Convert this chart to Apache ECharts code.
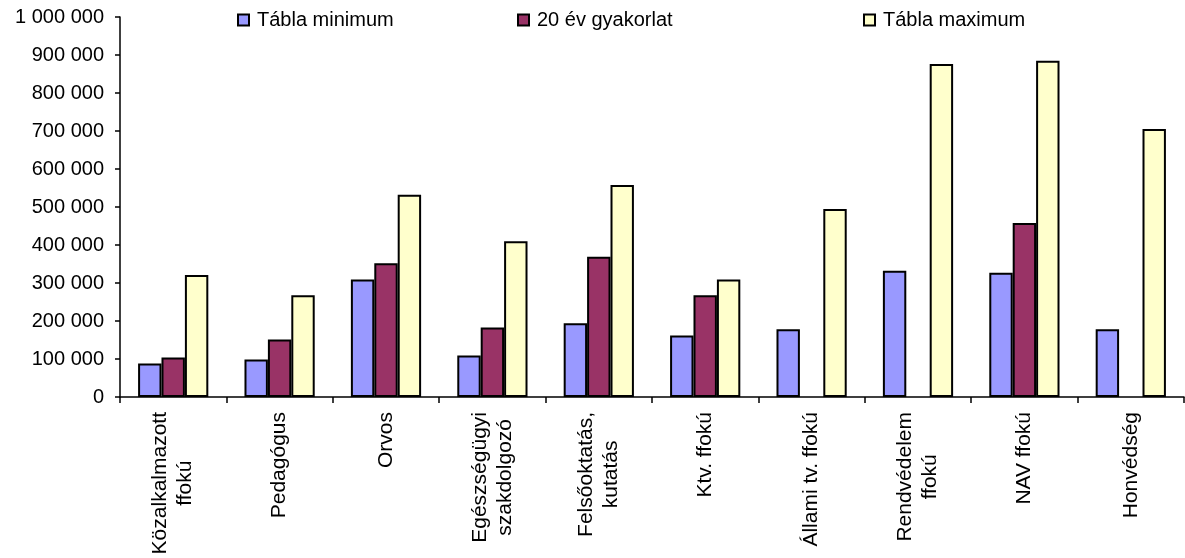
<!DOCTYPE html>
<html>
<head>
<meta charset="utf-8">
<script src="https://cdn.jsdelivr.net/npm/echarts@6/dist/echarts.min.js"></script>
<style>
  html, body { margin: 0; padding: 0; background: #ffffff; }
  #chart { width: 1185px; height: 558px; }
</style>
</head>
<body>
<div id="chart"></div>
<script>
// Monthly pay by career track (HUF)
const categories = [
  'Közalkalmazott\nffokú',
  'Pedagógus',
  'Orvos',
  'Egészségügyi\nszakdolgozó',
  'Felsőoktatás,\nkutatás',
  'Ktv. ffokú',
  'Állami tv. ffokú',
  'Rendvédelem\nffokú',
  'NAV ffokú',
  'Honvédség'
];
const seriesNames = ['Tábla minimum', '20 év gyakorlat', 'Tábla maximum'];
const tablaMinimum = [88000, 99000, 309000, 109000, 194000, 162000, 178000, 332000, 327000, 178000];
const evGyakorlat20 = [104000, 151000, 352000, 183000, 369000, 268000, null, null, 458000, null];
const tablaMaximum = [321000, 268000, 532000, 410000, 558000, 309000, 495000, 876000, 885000, 705000];
const yTicks = { min: 0, max: 1000000, interval: 100000 };

const FONT = "'Liberation Sans', Arial, sans-serif";
const colors = ['#9999FF', '#993366', '#FFFFCC'];

// thousands grouped with a space: 1 000 000
function spaced(v) {
  return String(v).replace(/\B(?=(\d{3})+(?!\d))/g, ' ');
}

const chart = echarts.init(document.getElementById('chart'), null, { renderer: 'canvas' });

const legendLeft = [237, 517, 863];

const option = {
  animation: false,
  backgroundColor: '#ffffff',
  textStyle: { fontFamily: FONT, color: '#000' },
  legend: seriesNames.map((n, i) => ({
    data: [n],
    left: legendLeft[i],
    top: 10,
    itemWidth: 11,
    itemHeight: 11,
    itemGap: 0,
    padding: 0,
    icon: 'rect',
    textStyle: { fontFamily: FONT, fontSize: 20, color: '#000', padding: [0, 0, 0, 3] }
  })),
  grid: {
    left: 120,
    right: 1,
    top: 17,
    bottom: 161,
    containLabel: false,
    outerBoundsMode: 'none'
  },
  xAxis: {
    type: 'category',
    data: categories,
    boundaryGap: true,
    axisLine: { show: true, lineStyle: { color: '#000', width: 1.5 } },
    axisTick: { show: true, length: 6, inside: false, lineStyle: { color: '#000', width: 1.5 } },
    axisLabel: {
      interval: 0,
      rotate: 90,
      margin: 15,
      color: '#000',
      fontFamily: FONT,
      fontSize: 21,
      lineHeight: 25,
      formatter: function (v) {
        // each line centred inside the rotated label block
        return v.split('\n').map(s => '{c|' + s + '}').join('\n');
      },
      rich: {
        c: { align: 'center', fontFamily: FONT, fontSize: 21, lineHeight: 25, color: '#000' }
      }
    },
    splitLine: { show: false }
  },
  yAxis: {
    type: 'value',
    min: yTicks.min,
    max: yTicks.max,
    interval: yTicks.interval,
    axisLine: { show: true, lineStyle: { color: '#000', width: 1.5 } },
    axisTick: { show: true, length: 5, inside: false, lineStyle: { color: '#000', width: 1.5 } },
    axisLabel: {
      margin: 16,
      color: '#000',
      fontFamily: FONT,
      fontSize: 20,
      formatter: spaced
    },
    splitLine: { show: false }
  },
  series: [tablaMinimum, evGyakorlat20, tablaMaximum].map((d, i) => ({
    name: seriesNames[i],
    type: 'bar',
    data: d,
    barGap: '0%',
    barCategoryGap: '34%',
    itemStyle: { color: colors[i], borderColor: '#000', borderWidth: 2 }
  }))
};

chart.setOption(option);
</script>
</body>
</html>
